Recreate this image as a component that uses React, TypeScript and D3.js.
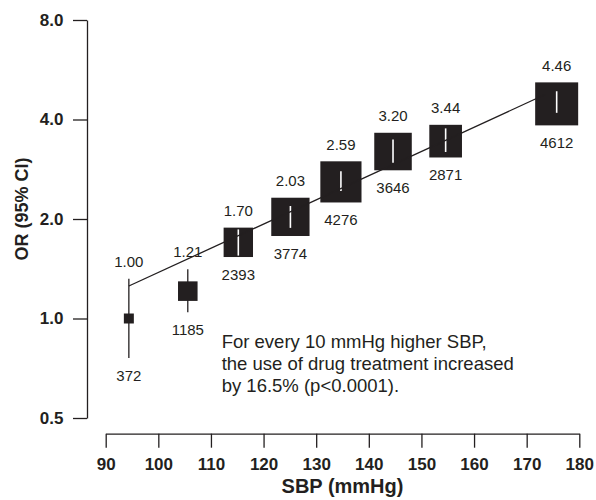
import * as React from "react";
import * as d3 from "d3";

// SBP group midpoints (mmHg) and odds ratios for drug treatment
const sbp = [94.4, 105.6, 115.2, 125.1, 134.7, 144.6, 154.6, 175.7];
const oddsRatio = [1.0, 1.21, 1.7, 2.03, 2.59, 3.2, 3.44, 4.46];
const ciLow = [0.76, 1.045, 1.55, 1.88, 2.43, 2.96, 3.19, 4.19];
const ciHigh = [1.32, 1.41, 1.86, 2.19, 2.79, 3.48, 3.76, 4.87];
const counts = [372, 1185, 2393, 3774, 4276, 3646, 2871, 4612];

// fitted trend line end points
const fitSbp = [94.4, 173.5];
const fitOr = [1.254, 4.76];

const yTicks = [0.5, 1, 2, 4, 8];
const xTicks = [90, 100, 110, 120, 130, 140, 150, 160, 170, 180];
const noteLines = [
  "For every 10 mmHg higher SBP,",
  "the use of drug treatment increased",
  "by 16.5% (p<0.0001).",
];

const W = 596;
const H = 500;
const ink = "#231f20";
const font = "Arial, 'Liberation Sans', Helvetica, sans-serif";

export default function App() {
  const ref = React.useRef<SVGSVGElement>(null);

  React.useEffect(() => {
    const svg = d3.select(ref.current);
    svg.selectAll("*").remove();

    const x = d3.scaleLinear().domain([90, 180]).range([105.7, 579.3]);
    const y = d3.scaleLog().base(2).domain([0.5, 8]).range([418, 20]);
    const size = d3.scalePow().exponent(0.58).domain([0, 4612]).range([0, 43]);

    // axes
    const yAxis = svg.append("g")
      .attr("transform", "translate(87,0)")
      .call(d3.axisLeft(y).tickValues(yTicks).tickSize(14).tickSizeOuter(0)
        .tickPadding(9.5).tickFormat(d3.format(".1f")));
    const xAxis = svg.append("g")
      .attr("transform", "translate(0,433.7)")
      .call(d3.axisBottom(x).tickValues(xTicks).tickSize(14).tickSizeOuter(0)
        .tickPadding(10).tickFormat(d3.format("d")));
    [yAxis, xAxis].forEach((g) => {
      g.selectAll("path,line").attr("stroke", ink).attr("stroke-width", 1.3);
      g.selectAll("text")
        .attr("fill", ink)
        .style("font-family", font)
        .style("font-size", "17px")
        .style("font-weight", "bold");
    });

    svg.append("text")
      .attr("x", 342.5).attr("y", 492.7)
      .attr("text-anchor", "middle")
      .attr("fill", ink)
      .style("font-family", font).style("font-size", "20px").style("font-weight", "bold")
      .text("SBP (mmHg)");
    svg.append("text")
      .attr("transform", "translate(28.3,209) rotate(-90)")
      .attr("text-anchor", "middle")
      .attr("fill", ink)
      .style("font-family", font).style("font-size", "18px").style("font-weight", "bold")
      .text("OR (95% CI)");

    const pts = sbp.map((s, i) => {
      const cx = x(s);
      const cy = y(oddsRatio[i]);
      const half = size(counts[i]) / 2;
      const top = y(ciHigh[i]);
      const bottom = y(ciLow[i]);
      return { cx, cy, half, top, bottom, i };
    });

    const marks = svg.append("g");
    pts.forEach((p) => {
      const inside = p.top >= p.cy - p.half && p.bottom <= p.cy + p.half;
      if (!inside) {
        marks.append("line")
          .attr("x1", p.cx).attr("x2", p.cx)
          .attr("y1", p.top).attr("y2", p.bottom)
          .attr("stroke", ink).attr("stroke-width", 1.3);
      }
      marks.append("rect")
        .attr("x", p.cx - p.half).attr("y", p.cy - p.half)
        .attr("width", p.half * 2).attr("height", p.half * 2)
        .attr("fill", ink);
      if (inside) {
        marks.append("line")
          .attr("x1", p.cx).attr("x2", p.cx)
          .attr("y1", p.top).attr("y2", p.bottom)
          .attr("stroke", "#fff").attr("stroke-width", 1.6);
      }
      const upper = Math.min(p.top, p.cy - p.half);
      const lower = Math.max(p.bottom, p.cy + p.half);
      marks.append("text")
        .attr("x", p.cx).attr("y", upper - 17).attr("dy", "0.35em")
        .attr("text-anchor", "middle").attr("fill", ink)
        .style("font-family", font).style("font-size", "15px")
        .text(d3.format(".2f")(oddsRatio[p.i]));
      marks.append("text")
        .attr("x", p.cx).attr("y", lower + 17.5).attr("dy", "0.35em")
        .attr("text-anchor", "middle").attr("fill", ink)
        .style("font-family", font).style("font-size", "15px")
        .text(counts[p.i]);
    });

    // trend line on top
    const line = d3.line<number>()
      .x((d, i) => x(d))
      .y((d, i) => y(fitOr[i]));
    svg.append("path")
      .datum(fitSbp)
      .attr("d", line)
      .attr("fill", "none")
      .attr("stroke", ink)
      .attr("stroke-width", 1.3);

    svg.append("text")
      .attr("fill", ink)
      .style("font-family", font).style("font-size", "18.5px")
      .selectAll("tspan")
      .data(noteLines)
      .join("tspan")
      .attr("x", 221.7)
      .attr("y", (d, i) => 347.7 + i * 22)
      .text((d) => d);
  }, []);

  return (
    <svg
      ref={ref}
      width={W}
      height={H}
      style={{ position: "absolute", left: 0, top: 0, background: "#fff" }}
    />
  );
}
